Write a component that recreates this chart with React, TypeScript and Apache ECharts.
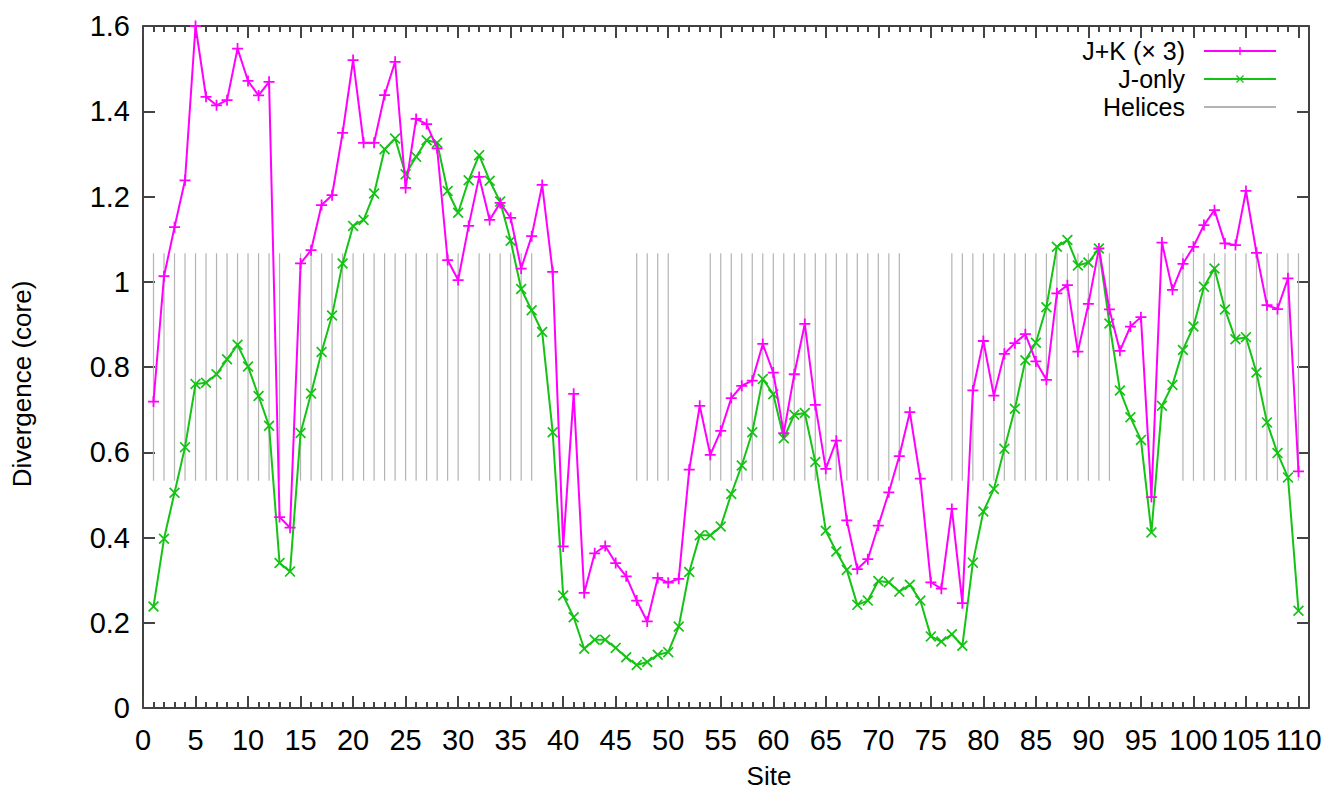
import React, { useEffect, useRef } from "react";
import * as echarts from "echarts";

const sites: number[] = Array.from({ length: 110 }, (_, i) => i + 1);

const jkTimes3: number[] = [
  0.719, 1.013, 1.128, 1.238, 1.600, 1.434, 1.414, 1.426, 1.547, 1.471,
  1.437, 1.469, 0.448, 0.423, 1.043, 1.074, 1.180, 1.203, 1.349, 1.520,
  1.326, 1.326, 1.438, 1.516, 1.220, 1.382, 1.370, 1.313, 1.051, 1.004,
  1.131, 1.246, 1.145, 1.185, 1.150, 1.031, 1.107, 1.227, 1.023, 0.379,
  0.737, 0.270, 0.363, 0.380, 0.340, 0.309, 0.252, 0.203, 0.305, 0.294,
  0.303, 0.559, 0.709, 0.594, 0.650, 0.727, 0.756, 0.768, 0.854, 0.787,
  0.645, 0.783, 0.901, 0.711, 0.561, 0.627, 0.440, 0.326, 0.349, 0.428,
  0.506, 0.591, 0.694, 0.538, 0.295, 0.280, 0.467, 0.246, 0.745, 0.861,
  0.733, 0.831, 0.856, 0.877, 0.813, 0.770, 0.973, 0.992, 0.836, 0.948,
  1.078, 0.935, 0.838, 0.895, 0.917, 0.495, 1.092, 0.981, 1.042, 1.082,
  1.133, 1.168, 1.090, 1.086, 1.213, 1.068, 0.945, 0.936, 1.008, 0.555,
];

const jOnly: number[] = [
  0.238, 0.397, 0.505, 0.612, 0.760, 0.763, 0.783, 0.818, 0.852, 0.801,
  0.732, 0.662, 0.340, 0.320, 0.645, 0.738, 0.835, 0.921, 1.043, 1.131,
  1.145, 1.207, 1.311, 1.336, 1.252, 1.293, 1.332, 1.326, 1.213, 1.162,
  1.238, 1.297, 1.237, 1.188, 1.096, 0.983, 0.933, 0.882, 0.647, 0.264,
  0.213, 0.139, 0.160, 0.160, 0.141, 0.119, 0.101, 0.108, 0.125, 0.131,
  0.191, 0.319, 0.405, 0.405, 0.426, 0.502, 0.569, 0.647, 0.772, 0.736,
  0.633, 0.688, 0.692, 0.577, 0.416, 0.367, 0.324, 0.242, 0.252, 0.298,
  0.295, 0.273, 0.289, 0.252, 0.168, 0.156, 0.173, 0.146, 0.341, 0.461,
  0.514, 0.608, 0.702, 0.816, 0.857, 0.940, 1.082, 1.098, 1.038, 1.045,
  1.078, 0.902, 0.745, 0.682, 0.629, 0.412, 0.709, 0.758, 0.840, 0.895,
  0.988, 1.031, 0.935, 0.865, 0.870, 0.787, 0.670, 0.598, 0.541, 0.228,
];

// helix segments (site ranges, inclusive)
const helixRanges: [number, number][] = [
  [1, 13], [15, 30], [32, 37], [47, 50], [54, 72], [77, 92], [99, 110],
];
const helixLow = 0.5333;
const helixHigh = 1.0667;

const xTickLabels = ["0", "5", "10", "15", "20", "25", "30", "35", "40", "45", "50", "55", "60", "65", "70", "75", "80", "85", "90", "95", "100", "105", "110"];

const FONT = "'Liberation Sans', Arial, Helvetica, sans-serif";
const NAME_JK = "J+K (× 3)";
const NAME_J = "J-only";
const NAME_H = "Helices";

const PLUS = "path://M4.2,0H5.8V4.2H10V5.8H5.8V10H4.2V5.8H0V4.2H4.2Z";
const CROSS = "path://M0,1.1L1.1,0L5,3.9L8.9,0L10,1.1L6.1,5L10,8.9L8.9,10L5,6.1L1.1,10L0,8.9L3.9,5Z";

export default function App() {
  const ref = useRef<HTMLDivElement>(null);

  useEffect(() => {
    if (!ref.current) return;
    const chart = echarts.init(ref.current, undefined, { renderer: "svg" });

    const helixData: (number | null)[][] = [];
    helixRanges.forEach(([a, b]) => {
      for (let s = a; s <= b; s++) {
        helixData.push([s, helixLow], [s, helixHigh], [s, null]);
      }
    });

    const baseX = {
      type: "value" as const,
      min: 0,
      max: 111,
      gridIndex: 0,
      splitLine: { show: false },
    };
    const baseY = {
      type: "value" as const,
      min: 0,
      max: 1.6,
      interval: 0.2,
      splitLine: { show: false },
    };
    const tickStyle = { color: "#444", width: 2 };
    const lineOn = { show: true, onZero: false, lineStyle: { color: "#000", width: 1.5 } };
    const lineOff = { show: false, onZero: false };

    chart.setOption({
      animation: false,
      backgroundColor: "#ffffff",
      grid: { left: 143, right: 30, top: 26, bottom: 83, containLabel: false },
      xAxis: [
        {
          ...baseX,
          position: "bottom",
          interval: 5,
          axisLine: lineOn,
          axisTick: { show: true, inside: true, length: 12, lineStyle: tickStyle },
          axisLabel: {
            show: true,
            margin: 17,
            fontSize: 29,
            color: "#000",
            fontFamily: FONT,
            showMaxLabel: false,
            formatter: (v: number) => (xTickLabels.indexOf(String(v)) >= 0 ? String(v) : ""),
          },
        },
        {
          ...baseX,
          position: "bottom",
          interval: 1,
          axisLine: lineOff,
          axisTick: { show: true, inside: true, length: 6, lineStyle: tickStyle },
          axisLabel: { show: false },
        },
        {
          ...baseX,
          position: "top",
          interval: 5,
          axisLine: lineOn,
          axisTick: { show: true, inside: true, length: 12, lineStyle: tickStyle },
          axisLabel: { show: false },
        },
        {
          ...baseX,
          position: "top",
          interval: 1,
          axisLine: lineOff,
          axisTick: { show: true, inside: true, length: 6, lineStyle: tickStyle },
          axisLabel: { show: false },
        },
      ],
      yAxis: [
        {
          ...baseY,
          position: "left",
          axisLine: lineOn,
          axisTick: { show: true, inside: true, length: 12, lineStyle: tickStyle },
          axisLabel: { show: true, margin: 13, fontSize: 29, color: "#000", fontFamily: FONT },
        },
        {
          ...baseY,
          position: "right",
          axisLine: lineOn,
          axisTick: { show: true, inside: true, length: 12, lineStyle: tickStyle },
          axisLabel: { show: false },
        },
      ],
      legend: {
        orient: "vertical",
        right: 62,
        top: 37,
        padding: 0,
        align: "right",
        itemWidth: 72,
        itemHeight: 10,
        itemGap: 0,
        selectedMode: false,
        textStyle: { fontSize: 25, lineHeight: 28, color: "#000", fontFamily: FONT, padding: [0, 14, 0, 0] },
        data: [NAME_JK, NAME_J, { name: NAME_H, itemStyle: { opacity: 0 } }],
      },
      graphic: [
        {
          type: "text",
          x: 22,
          y: 384,
          rotation: Math.PI / 2,
          style: { text: "Divergence (core)", fontSize: 26, fontFamily: FONT, fill: "#000", align: "center", verticalAlign: "middle" },
        },
        {
          type: "text",
          x: 769,
          y: 776,
          style: { text: "Site", fontSize: 26, fontFamily: FONT, fill: "#000", align: "center", verticalAlign: "middle" },
        },
      ],
      series: [
        {
          name: NAME_H,
          type: "line",
          data: helixData,
          connectNulls: false,
          symbol: "none",
          color: "#b4b4b4",
          lineStyle: { color: "#b4b4b4", width: 1.2 },
          z: 1,
        },
        {
          name: NAME_JK,
          type: "line",
          data: sites.map((s, i) => [s, jkTimes3[i]]),
          symbol: PLUS,
          symbolSize: 11,
          color: "#ff00ff",
          itemStyle: { color: "#ff00ff" },
          lineStyle: { color: "#ff00ff", width: 2 },
          z: 3,
        },
        {
          name: NAME_J,
          type: "line",
          data: sites.map((s, i) => [s, jOnly[i]]),
          symbol: CROSS,
          symbolSize: 11,
          color: "#14c314",
          itemStyle: { color: "#14c314" },
          lineStyle: { color: "#14c314", width: 2 },
          z: 2,
        },
      ],
    });

    return () => chart.dispose();
  }, []);

  return <div ref={ref} style={{ position: "fixed", left: 0, top: 0, width: 1339, height: 791 }} />;
}
